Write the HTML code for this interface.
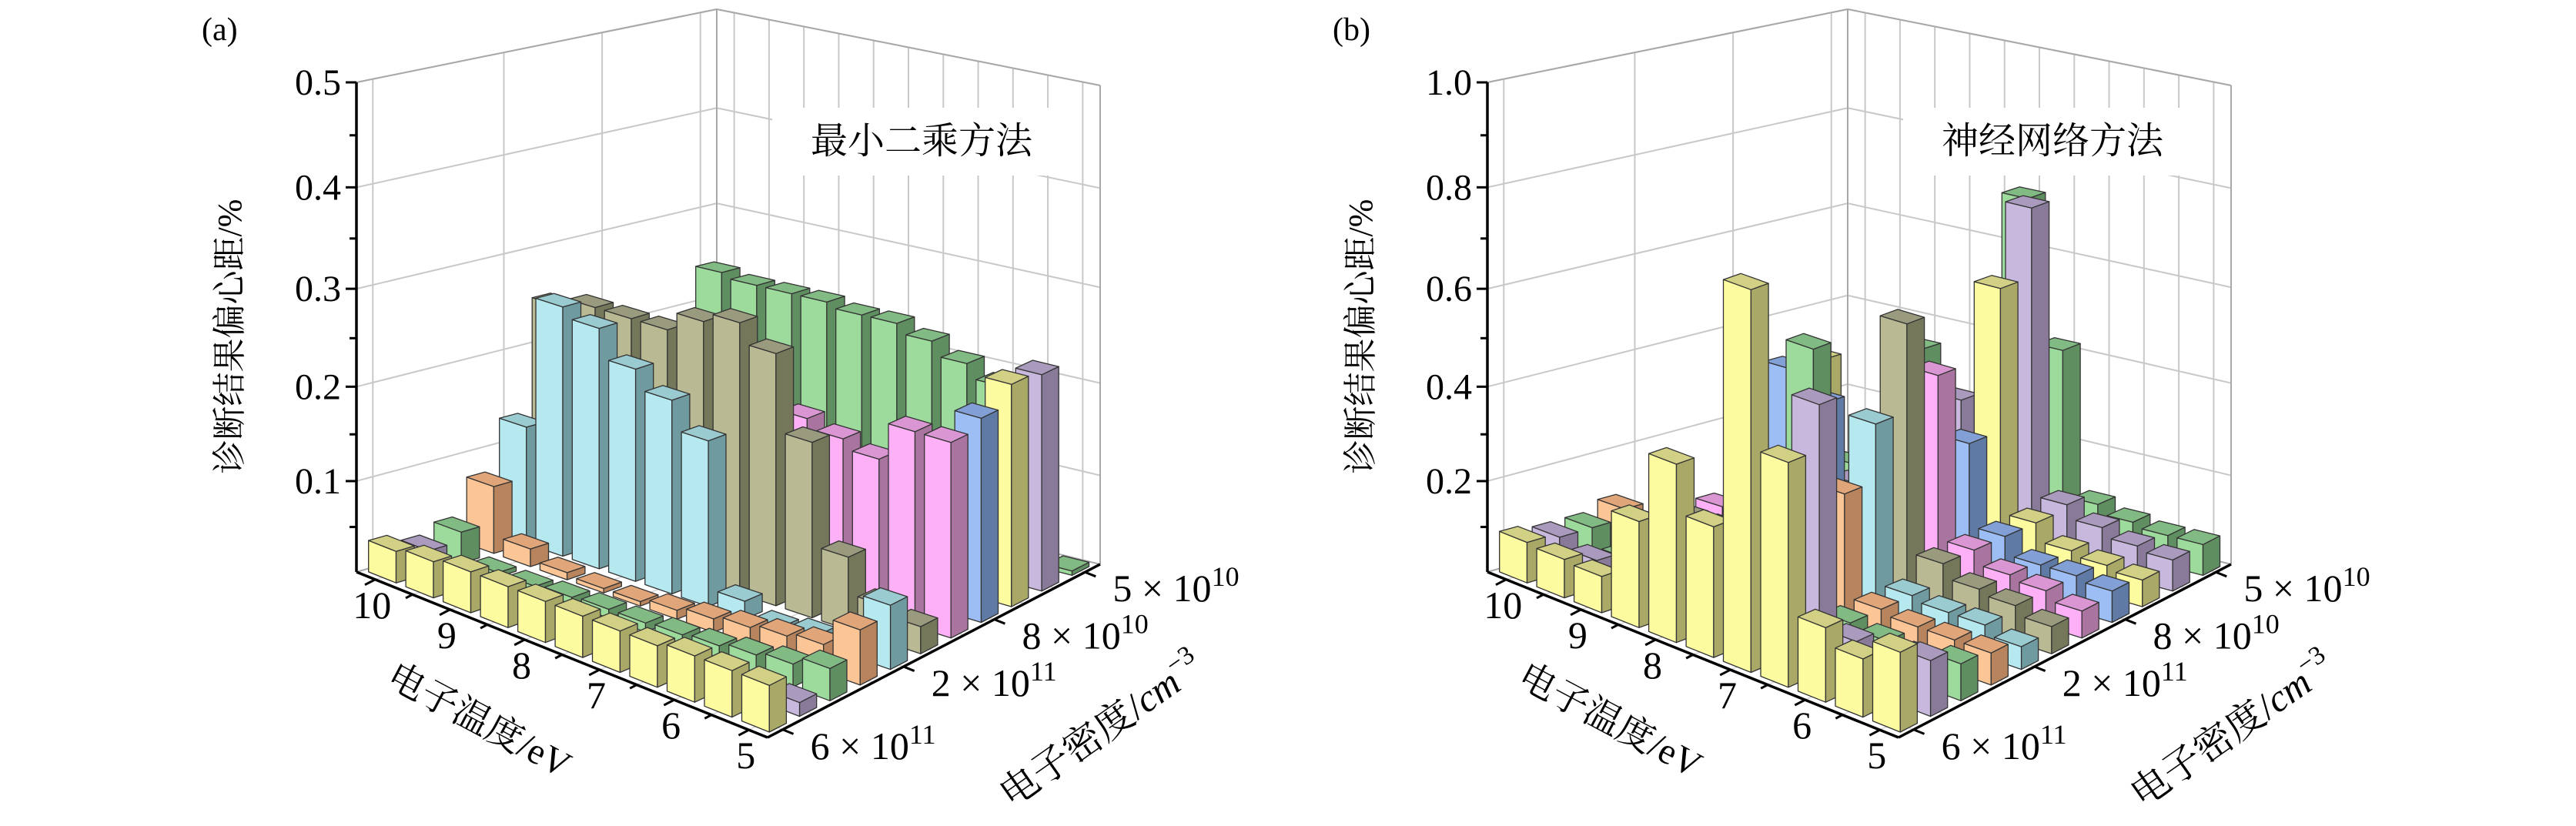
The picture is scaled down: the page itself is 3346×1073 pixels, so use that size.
<!DOCTYPE html>
<html><head><meta charset="utf-8">
<style>
html,body{margin:0;padding:0;background:#fff;}
svg{display:block;}
text{font-family:"Liberation Serif","Noto Serif CJK SC",serif;fill:#000;}
.cjk{font-family:"Liberation Serif","Noto Serif CJK SC","Noto Sans CJK SC",serif;}
</style></head>
<body>
<svg id="chart" xmlns="http://www.w3.org/2000/svg" width="3346" height="1073" viewBox="0 0 3346 1073">
<rect x="0" y="0" width="3346" height="1073" fill="#fff"/>
<g id="panelA"></g>
<g id="panelB"></g>
</svg>
<script>
// ---- data ----
const tempLabels = ['10','9','8','7','6','5'];
const densMant = ['6','2','8','5'];
const densExp = ['11','11','10','10'];
const densTickRows = [0,4,7,10];
const ticksA = [0.1,0.2,0.3,0.4,0.5];
const ticksB = [0.2,0.4,0.6,0.8,1.0];
const rowLight = ['#fdfb9f','#c9b8dd','#9cdb9c','#fcc595','#b5e8ef','#b9b994','#fdb0f5','#9dbdf5','#fdfb9f','#c9b8dd','#9cdb9c'];
const rowDark  = ['#a9a866','#887a98','#5f8e60','#b7845e','#6f9aa0','#75775a','#a9749f','#5f7aa5','#a9a866','#887a98','#5f8e60'];
const rowTop   = ['#d2d084','#aa9abd','#82ba83','#e0a67a','#9acbd1','#9a9b7e','#d996d2','#82a0d6','#d2d084','#aa9abd','#82ba83'];
// panel a values: rows = density (6e11 front ... 5e10 back), cols = temperature 10 -> 5
const a0 = [0.035,0.04,0.045,0.045,0.045,0.045,0.045,0.045,0.05,0.05,0.05];
const a1 = [0.025,0.003,0.003,0.003,0.003,0.003,0.003,0.005,0.005,0.01,0.015];
const a2 = [0.035,0.005,0.005,0.008,0.01,0.01,0.012,0.015,0.02,0.025,0.035];
const a3 = [0.075,0.02,0.008,0.005,0.005,0.01,0.015,0.02,0.025,0.03,0.06];
const a4 = [0.13,0.27,0.26,0.23,0.21,0.18,0.02,0.005,0.01,0.005,0.07];
const a5 = [0.25,0.26,0.26,0.26,0.28,0.29,0.27,0.19,0.08,0.04,0.03];
const a6 = [0.2,0.2,0.2,0.2,0.2,0.2,0.19,0.18,0.17,0.21,0.21];
const a7 = [0.08,0.08,0.08,0.08,0.1,0.1,0.1,0.12,0.15,0.15,0.22];
const a8 = [0.02,0.02,0.02,0.02,0.02,0.02,0.02,0.03,0.05,0.1,0.24];
const a9 = [0.02,0.02,0.02,0.02,0.02,0.02,0.02,0.03,0.05,0.1,0.235];
const a10 = [0.24,0.235,0.235,0.235,0.23,0.23,0.22,0.205,0.19,0.15,0.005];
// panel b values
const b0 = [0.09,0.085,0.08,0.23,0.38,0.28,0.78,0.47,0.16,0.125,0.17];
const b1 = [0.08,0.06,0.05,0.08,0.22,0.05,0.05,0.56,0.1,0.08,0.12];
const b2 = [0.08,0.04,0.04,0.04,0.04,0.04,0.62,0.08,0.07,0.06,0.08];
const b3 = [0.1,0.04,0.04,0.04,0.2,0.04,0.3,0.08,0.07,0.07,0.07];
const b4 = [0.04,0.04,0.04,0.05,0.05,0.05,0.42,0.08,0.07,0.07,0.05];
const b5 = [0.04,0.04,0.04,0.05,0.05,0.05,0.6,0.12,0.09,0.08,0.06];
const b6 = [0.04,0.04,0.04,0.05,0.05,0.05,0.47,0.12,0.09,0.08,0.06];
const b7 = [0.05,0.35,0.3,0.05,0.05,0.05,0.3,0.12,0.08,0.08,0.07];
const b8 = [0.05,0.35,0.05,0.05,0.32,0.05,0.6,0.12,0.08,0.07,0.06];
const b9 = [0.05,0.05,0.05,0.05,0.3,0.05,0.74,0.13,0.1,0.08,0.07];
const b10 = [0.05,0.05,0.35,0.05,0.05,0.72,0.42,0.1,0.08,0.07,0.07];
const rowsA = [a0,a1,a2,a3,a4,a5,a6,a7,a8,a9,a10];
const rowsB = [b0,b1,b2,b3,b4,b5,b6,b7,b8,b9,b10];

const NS = 'http://www.w3.org/2000/svg';
function el(tag, attrs, parent){
  const e = document.createElementNS(NS, tag);
  for (const k in attrs) e.setAttribute(k, attrs[k]);
  parent.appendChild(e);
  return e;
}
function pts(a){ return a.map(p=>p[0].toFixed(1)+','+p[1].toFixed(1)).join(' '); }

function panel(g, ox, rows, zmax, ticks, tickFmt, letter, inset){
  const L=[463+ox,743], F=[997+ox,958], R=[1429+ox,733], B=[931+ox,610];
  const SL=636, SF=660, SR=622, SB=598;
  function floor(u,v){
    return [(1-u)*(1-v)*L[0]+u*(1-v)*F[0]+u*v*R[0]+(1-u)*v*B[0],
            (1-u)*(1-v)*L[1]+u*(1-v)*F[1]+u*v*R[1]+(1-u)*v*B[1]];
  }
  function sc(u,v){ return (1-u)*(1-v)*SL+u*(1-v)*SF+u*v*SR+(1-u)*v*SB; }
  function P(u,v,z){
    const p=floor(u,v); const t=z/zmax;
    return [p[0], p[1]-sc(u,v)*(0.91*t+0.09*t*t)];
  }
  const N=11;
  const uc = i => (i+0.5)/N;
  const wall = el('g',{},g);
  
  
  function line(a,b,stroke,w,parent){
    return el('line',{x1:a[0],y1:a[1],x2:b[0],y2:b[1],stroke:stroke,'stroke-width':w},parent||wall);
  }
  for(let i=0;i<N;i++){ const l=line(P(uc(i),0,0),P(uc(i),1,0),'#d6d6d6',1.5);
    
     }
  for(let j=0;j<N;j++){ const l=line(P(0,uc(j),0),P(1,uc(j),0),'#d6d6d6',1.5);
    
     }
  for(const z of ticks){
    let l=line(P(0,0,z),P(0,1,z),'#c8c8c8',2);
    
    
    l=line(P(0,1,z),P(1,1,z),'#c8c8c8',2);
    
    
  }
  for(const j of densTickRows){
    const l=line(P(0,uc(j),0),P(0,uc(j),zmax),'#c8c8c8',2);
    
    
  }
  for(let i=0;i<N;i++){
    const l=line(P(uc(i),1,0),P(uc(i),1,zmax),'#c8c8c8',2);
    
    
  }
  [[P(0,1,0),P(0,1,zmax)],[P(1,1,0),P(1,1,zmax)],[P(0,0,zmax),P(0,1,zmax)],[P(0,1,zmax),P(1,1,zmax)],[P(0,1,0),P(1,1,0)],[P(0,0,0),P(0,1,0)]].forEach(s=>{
    const l=line(s[0],s[1],'#a8a8a8',2);
    
    
  });
  const box=el('rect',{x:1003+ox,y:140,width:390,height:88,fill:'#fff'},g);
  
  
  const it=el('text',{x:1197+ox,y:199,'font-size':48,'text-anchor':'middle',class:'cjk'},g);
  it.textContent=inset;
  
  
  const bars=el('g',{},g);
  
  
  for(let j=N-1;j>=0;j--){
    for(let i=0;i<N;i++){
      const z=rows[j][i];
      const u0=(i+0.13)/N,u1=(i+0.87)/N,v0=(j+0.22)/N,v1=(j+0.78)/N;
      const Pb=P(u0,v0,0),Qb=P(u1,v0,0),Sb=P(u1,v1,0);
      const Pt=P(u0,v0,z),Qt=P(u1,v0,z),St=P(u1,v1,z),Tt=P(u0,v1,z);
      const bg=el('g',{},bars);
      
      
      el('polygon',{points:pts([Pb,Qb,Qt,Pt]),fill:rowLight[j],stroke:'#333','stroke-width':1.3,'stroke-linejoin':'round'},bg);
      el('polygon',{points:pts([Qb,Sb,St,Qt]),fill:rowDark[j],stroke:'#333','stroke-width':1.3,'stroke-linejoin':'round'},bg);
      el('polygon',{points:pts([Pt,Qt,St,Tt]),fill:rowTop[j],stroke:'#333','stroke-width':1.3,'stroke-linejoin':'round'},bg);
    }
  }
  const ax=el('g',{},g);
  
  
  let l=line(P(0,0,0),P(0,0,zmax),'#000',3.5,ax);
  
  
  l=line(P(0,0,0),P(1,0,0),'#000',3.5,ax);
  
  
  l=line(P(1,0,0),P(1,1,0),'#000',3.5,ax);
  
  
  for(let k=1;k<=ticks.length*2;k++){
    const z=k*ticks[0]/2; const p=P(0,0,z); const major=(k%2===0);
    const tk=line(p,[p[0]-(major?14:9),p[1]],'#000',3,ax);
    
    
  }
  ticks.forEach(z=>{
    const p=P(0,0,z);
    const t=el('text',{x:p[0]-20,y:p[1]+16,'font-size':48,'text-anchor':'end'},ax);
    t.textContent=tickFmt(z);
    
    
  });
  for(let i=0;i<N;i++){
    const p=P(uc(i),0,0);
    const len=(i%2===0)?15:10;
    const tk=line(p,[p[0]-0.887*len,p[1]+0.462*len],'#000',3,ax);
    
    
  }
  tempLabels.forEach((s,k)=>{
    const p=P(uc(k*2),0,0);
    const t=el('text',{x:p[0]-4,y:p[1]+34+16,'font-size':50,'text-anchor':'middle'},ax);
    t.textContent=s;
    
    
  });
  for(const j of densTickRows){
    const p=P(1,uc(j),0);
    const tk=line(p,[p[0]+0.928*15,p[1]+0.373*15],'#000',3,ax);
    
    
  }
  densMant.forEach((m,k)=>{
    const p=P(1,uc(densTickRows[k]),0);
    const t=el('text',{x:p[0]+36,y:p[1]+22+16,'font-size':50},ax);
    
    
    const s1=el('tspan',{},t); s1.textContent=m+' \u00d7 10';
    const s2=el('tspan',{dy:-20,'font-size':36},t); s2.textContent=densExp[k];
  });
  const yt=el('text',{x:0,y:0,'font-size':44,'text-anchor':'middle',class:'cjk',transform:'translate('+(313+ox)+',437) rotate(-90)'},g);
  yt.textContent='诊断结果偏心距/%';
  
  
  const xt=el('text',{x:0,y:0,'font-size':48,'text-anchor':'middle',class:'cjk',transform:'translate('+(615+ox)+',950) rotate(28)'},g);
  xt.textContent='电子温度/eV';
  
  
  const dt=el('text',{x:0,y:0,'font-size':50,'text-anchor':'middle',class:'cjk',transform:'translate('+(1440+ox)+',962) rotate(-35)'},g);
  
  
  const d1=el('tspan',{},dt); d1.textContent='电子密度/';
  const d2=el('tspan',{'font-style':'italic'},dt); d2.textContent='cm';
  const d3=el('tspan',{dy:-22,'font-size':34},dt); d3.textContent='\u22123';
  const lt=el('text',{x:262+ox,y:52,'font-size':42},g);
  lt.textContent='('+letter+')';
  
  
}
panel(document.getElementById('panelA'),0,rowsA,0.5,ticksA,z=>z.toFixed(1),'a','最小二乘方法');
panel(document.getElementById('panelB'),1469,rowsB,1.0,ticksB,z=>z.toFixed(1),'b','神经网络方法');
</script>
</body></html>
